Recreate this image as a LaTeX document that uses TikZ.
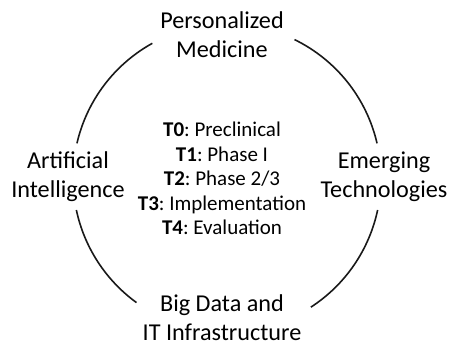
\documentclass[tikz,border=0pt]{standalone}
\usepackage{fontspec}
\setmainfont{Carlito}
\frenchspacing
\begin{document}
\begin{tikzpicture}[x=1pt,y=1pt,
  ring/.style={line width=1.6pt,black!90},
  outer/.style={font=\fontsize{24.2}{29.5}\selectfont,align=center,anchor=base,inner sep=0pt},
  inner/.style={font=\fontsize{21}{24.5}\selectfont,align=center,anchor=base,inner sep=0pt}]
\useasboundingbox (0,0) rectangle (451,345);
\coordinate (c) at (227,167);
\draw[ring] ([shift={(13:154)}]c) arc[start angle=13,end angle=64,radius=154];
\draw[ring] ([shift={(119:154)}]c) arc[start angle=119,end angle=167,radius=154];
\draw[ring] ([shift={(192:154)}]c) arc[start angle=192,end angle=234,radius=154];
\draw[ring] ([shift={(303:154)}]c) arc[start angle=303,end angle=348,radius=154];
\node[outer] (top) at (222,287) {Personalized\\Medicine};
\node[outer] (left) at (68,147) {Artificial\\Intelligence};
\node[outer] (right) at (384,147) {Emerging\\Technologies};
\node[outer] (bottom) at (222,4) {Big Data and\\IT Infrastructure};
\node[inner] (mid) at (222,110) {\textbf{T0}: Preclinical\\\textbf{T1}: Phase I\\\textbf{T2}: Phase 2/3\\\textbf{T3}: Implementation\\\textbf{T4}: Evaluation};
\end{tikzpicture}
\end{document}
